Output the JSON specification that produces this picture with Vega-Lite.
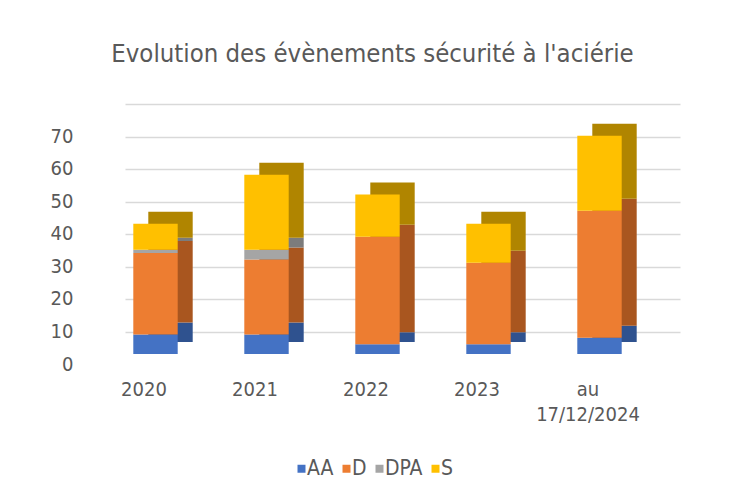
{
  "$schema": "https://vega.github.io/schema/vega-lite/v6.json",
  "autosize": "none",
  "width": 555,
  "height": 228,
  "padding": {"left": 125, "top": 104, "right": 51, "bottom": 161},
  "background": "white",
  "title": {
    "text": "Evolution des évènements sécurité à l'aciérie",
    "font": "Liberation Sans Narrow, DejaVu Sans Condensed, Roboto",
    "fontSize": 25.5,
    "fontWeight": "normal",
    "color": "#595959",
    "anchor": "middle",
    "frame": "group",
    "baseline": "alphabetic",
    "offset": 17,
    "dx": -30
  },
  "data": {
    "values": [
      {"annee": "2020", "type": "AA", "nombre": 6},
      {"annee": "2020", "type": "D", "nombre": 25},
      {"annee": "2020", "type": "DPA", "nombre": 1},
      {"annee": "2020", "type": "S", "nombre": 8},
      {"annee": "2021", "type": "AA", "nombre": 6},
      {"annee": "2021", "type": "D", "nombre": 23},
      {"annee": "2021", "type": "DPA", "nombre": 3},
      {"annee": "2021", "type": "S", "nombre": 23},
      {"annee": "2022", "type": "AA", "nombre": 3},
      {"annee": "2022", "type": "D", "nombre": 33},
      {"annee": "2022", "type": "S", "nombre": 13},
      {"annee": "2023", "type": "AA", "nombre": 3},
      {"annee": "2023", "type": "D", "nombre": 25},
      {"annee": "2023", "type": "S", "nombre": 12},
      {"annee": "au 17/12/2024", "type": "AA", "nombre": 5},
      {"annee": "au 17/12/2024", "type": "D", "nombre": 39},
      {"annee": "au 17/12/2024", "type": "S", "nombre": 23}
    ]
  },
  "encoding": {
    "x": {
      "field": "annee",
      "type": "nominal",
      "sort": null,
      "title": null,
      "scale": {"paddingInner": 0.6, "paddingOuter": 0.3},
      "axis": {
        "domain": false,
        "ticks": false,
        "grid": false,
        "labelAngle": 0,
        "labelPadding": 47,
        "labelOffset": -36.5,
        "labelFont": "Liberation Sans Narrow, DejaVu Sans Condensed, Roboto",
        "labelFontSize": 20,
        "labelColor": "#595959",
        "labelLineHeight": 25,
        "labelExpr": "datum.label == 'au 17/12/2024' ? ['au', '17/12/2024'] : datum.label"
      }
    },
    "y": {
      "field": "nombre",
      "type": "quantitative",
      "aggregate": "sum",
      "stack": "zero",
      "title": null,
      "scale": {"domain": [0, 70], "nice": false},
      "axis": {
        "values": [0, 10, 20, 30, 40, 50, 60, 70],
        "domain": false,
        "ticks": false,
        "grid": true,
        "gridColor": "#D9D9D9",
        "gridWidth": 1.5,
        "labelPadding": 52,
        "labelOffset": 32,
        "labelFont": "Liberation Sans Narrow, DejaVu Sans Condensed, Roboto",
        "labelFontSize": 20,
        "labelColor": "#595959"
      }
    },
    "order": {"field": "type", "sort": "ascending"}
  },
  "layer": [
    {
      "mark": {"type": "bar", "xOffset": -10, "yOffset": 10, "y2Offset": 10},
      "encoding": {
        "color": {
          "field": "type",
          "type": "nominal",
          "legend": null,
          "scale": {"domain": ["AA", "D", "DPA", "S"], "range": ["#2F528F", "#A9561F", "#7C7C7C", "#B08500"]}
        }
      }
    },
    {
      "mark": {"type": "bar", "xOffset": -25, "yOffset": 22, "y2Offset": 22},
      "encoding": {
        "color": {
          "field": "type",
          "type": "nominal",
          "title": null,
          "scale": {"domain": ["AA", "D", "DPA", "S"], "range": ["#4472C4", "#ED7D31", "#A5A5A5", "#FFC000"]},
          "legend": {
            "orient": "none",
            "direction": "horizontal",
            "legendX": 166,
            "legendY": 354,
            "symbolType": "square",
            "symbolSize": 64,
            "symbolStrokeWidth": 0,
            "labelFont": "Liberation Sans Narrow, DejaVu Sans Condensed, Roboto",
            "labelFontSize": 21,
            "labelColor": "#595959",
            "labelOffset": -5,
            "columnPadding": 2
          }
        }
      }
    }
  ],
  "resolve": {"scale": {"color": "independent"}},
  "config": {"view": {"stroke": null}}
}
